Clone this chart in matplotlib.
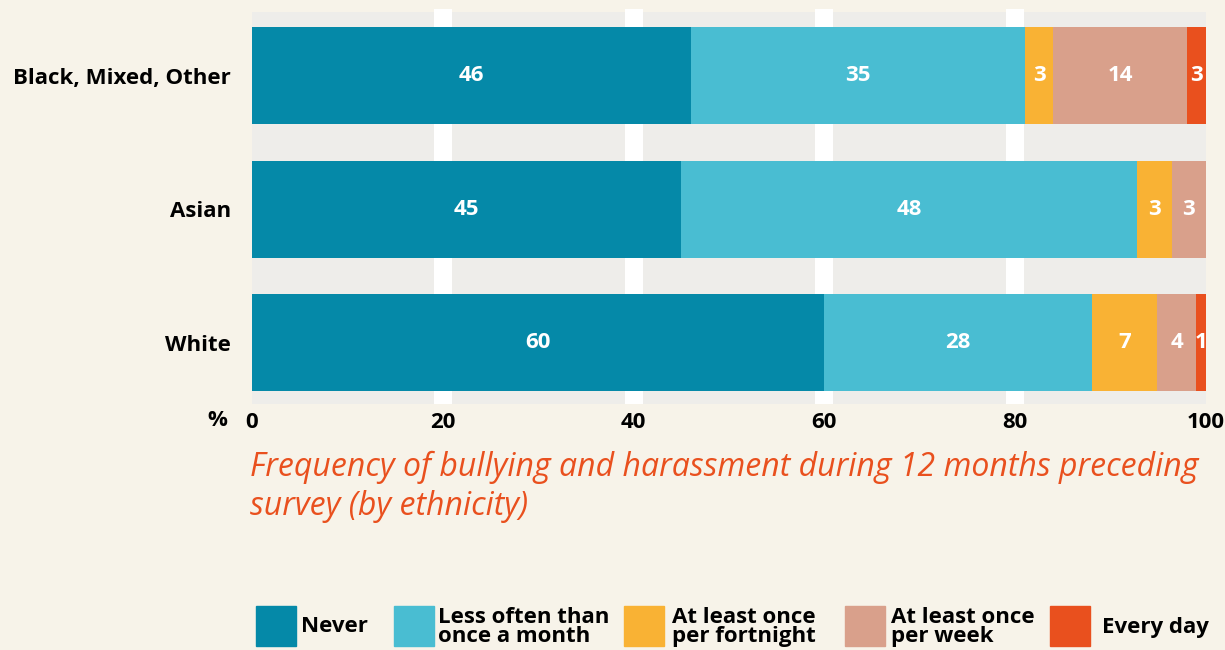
import matplotlib.pyplot as plt
from matplotlib.patches import Rectangle

plt.rcParams['font.family'] = ['Open Sans', 'DejaVu Sans']

# data (top row first in the picture)
groups = ['White', 'Asian', 'Black, Mixed, Other']
categories = ['Never', 'Less often than\nonce a month', 'At least once\nper fortnight',
              'At least once\nper week', 'Every day']
never = [60, 45, 46]
less_monthly = [28, 47.8, 35]
fortnight = [6.9, 3.6, 3]
weekly = [4.1, 3.6, 14]
every_day = [1, 0, 3]
labels = [
    ['60', '45', '46'],
    ['28', '48', '35'],
    ['7', '3', '3'],
    ['4', '3', '14'],
    ['1', '', '3'],
]
series = [never, less_monthly, fortnight, weekly, every_day]
colors = ['#0589a8', '#49bdd2', '#f9b234', '#d9a08b', '#e9501e']

bg = '#f7f3e9'
fs = 16
fig = plt.figure(figsize=(12.25, 6.5), dpi=100, facecolor=bg)
ax = fig.add_axes([252 / 1225, 1 - 404 / 650, 954 / 1225, 392 / 650])
ax.set_facecolor('#eeedea')

for x in [20, 40, 60, 80]:
    ax.axvline(x, ymin=0, ymax=1.008, color='white', lw=13, zorder=1,
               clip_on=False, solid_capstyle='butt')

left = [0, 0, 0]
for vals, col, labs in zip(series, colors, labels):
    ax.barh(range(len(groups)), vals, left=left, height=0.727, color=col, zorder=2)
    for i, (v, l, t) in enumerate(zip(vals, left, labs)):
        if t:
            cx = (l + min(l + v, 100)) / 2
            ax.text(cx, i, t, ha='center', va='center', color='white',
                    fontsize=fs, fontweight='bold', zorder=3)
    left = [a + b for a, b in zip(left, vals)]

ax.set_xlim(0, 100)
ax.set_ylim(-0.46, 2.476)
ax.set_yticks(range(len(groups)))
ax.set_yticklabels(groups, fontsize=fs, fontweight='bold')
ax.set_xticks([0, 20, 40, 60, 80, 100])
ax.set_xticklabels(['0', '20', '40', '60', '80', '100'], fontsize=fs, fontweight='bold')
ax.tick_params(length=0, pad=6)
ax.tick_params(axis='y', pad=15)
for s in ax.spines.values():
    s.set_visible(False)

fig.text(217 / 1225, 1 - 421 / 650, '%', ha='center', va='center',
         fontsize=fs, fontweight='bold')

fig.text(250 / 1225, 1 - 487 / 650,
         'Frequency of bullying and harassment during 12 months preceding\nsurvey (by ethnicity)',
         ha='left', va='center', color='#e9501e', fontsize=23, style='italic',
         linespacing=1.25)

# legend
box_x = [256, 394, 624, 845, 1050]
text_x = [301, 438, 672, 891, 1102]
for bx, tx, col, cat in zip(box_x, text_x, colors, categories):
    fig.add_artist(Rectangle((bx / 1225, 1 - 646 / 650), 40 / 1225, 40 / 650,
                             transform=fig.transFigure, color=col))
    fig.text(tx / 1225, 1 - 627 / 650, cat, ha='left', va='center',
             fontsize=fs, fontweight='bold', linespacing=0.85)

plt.savefig('out.png', dpi=100, facecolor=bg)
